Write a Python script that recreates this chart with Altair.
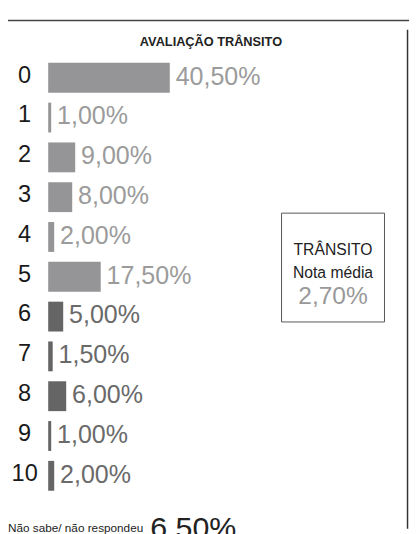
import altair as alt
import pandas as pd

# ---- data ----
notas = [str(i) for i in range(11)]
percentuais = [40.5, 1.0, 9.0, 8.0, 2.0, 17.5, 5.0, 1.5, 6.0, 1.0, 2.0]
titulo = "AVALIAÇÃO TRÂNSITO"
nao_sabe_rotulo = "Não sabe/ não respondeu"
nao_sabe_valor = 6.5
media_linhas = ["TRÂNSITO", "Nota média"]
media_valor = 2.7


def fmt(v):
    return f"{v:.2f}".replace(".", ",") + "%"


df = pd.DataFrame({
    "nota": notas,
    "num": list(range(len(notas))),
    "pct": percentuais,
    "rotulo": [fmt(v) for v in percentuais],
})

FONT = "Liberation Sans"
W, H = 409, 526
LIGHT = "#959598"
DARK = "#656565"
LIGHT_T = "#9b9b9b"
DARK_T = "#6a6a6a"

ysc = alt.Scale(range=[45.6, 492.2], paddingInner=0.25, paddingOuter=0.125)
y = alt.Y("nota:N", sort=notas, axis=None, scale=ysc)
x = alt.X("pct:Q", axis=None, scale=alt.Scale(domain=[0, 40.5], range=[41, 165]))
cond = "datum.num >= 6"

base = alt.Chart(df)

bars = base.mark_bar().encode(
    x=x, y=y,
    color=alt.condition(cond, alt.value(DARK), alt.value(LIGHT)),
)

pct_labels = base.mark_text(
    align="left", baseline="middle", dx=6, dy=-1, fontSize=25.5, font=FONT
).encode(
    x=x, y=y, text="rotulo:N",
    color=alt.condition(cond, alt.value(DARK_T), alt.value(LIGHT_T)),
)

cat_labels = base.mark_text(
    align="center", baseline="middle", dy=-2, fontSize=24, font=FONT, color="#1a1a1a"
).encode(x=alt.value(17), y=y, text="nota:N")

title_df = pd.DataFrame({"t": [titulo]})
title = alt.Chart(title_df).mark_text(
    align="center", baseline="alphabetic", fontSize=13, fontWeight="bold",
    font=FONT, color="#222222"
).encode(x=alt.value(207), y=alt.value(34), text="t:N")

top_line = alt.Chart(title_df).mark_rule(color="#444444", strokeWidth=1.5).encode(
    x=alt.value(0), x2=alt.value(W), y=alt.value(7.5)
)
right_line = alt.Chart(title_df).mark_rule(color="#333333", strokeWidth=1.5).encode(
    x=alt.value(407.5), y=alt.value(17), y2=alt.value(H)
)

box = alt.Chart(title_df).mark_rect(fill="white", stroke="#555555", strokeWidth=1).encode(
    x=alt.value(279), x2=alt.value(384), y=alt.value(204), y2=alt.value(315)
)

box_df1 = pd.DataFrame({"t": [media_linhas[0]]})
box_df2 = pd.DataFrame({"t": [media_linhas[1]]})
box_df3 = pd.DataFrame({"t": [fmt(media_valor)]})
box_t1 = alt.Chart(box_df1).mark_text(
    align="center", fontSize=16, font=FONT, color="#222222"
).encode(x=alt.value(331.5), y=alt.value(242), text="t:N")
box_t2 = alt.Chart(box_df2).mark_text(
    align="center", fontSize=16, font=FONT, color="#222222"
).encode(x=alt.value(331.5), y=alt.value(265), text="t:N")
box_t3 = alt.Chart(box_df3).mark_text(
    align="center", fontSize=25, font=FONT, color="#999999"
).encode(x=alt.value(331.5), y=alt.value(289), text="t:N")

ns_df1 = pd.DataFrame({"t": [nao_sabe_rotulo]})
ns_df2 = pd.DataFrame({"t": [fmt(nao_sabe_valor)]})
ns_t1 = alt.Chart(ns_df1).mark_text(
    align="left", fontSize=12, font=FONT, color="#222222"
).encode(x=alt.value(0), y=alt.value(525), text="t:N")
ns_t2 = alt.Chart(ns_df2).mark_text(
    align="left", fontSize=31, font=FONT, color="#222222"
).encode(x=alt.value(145), y=alt.value(526), text="t:N")

chart = alt.layer(
    top_line, right_line, title, box, box_t1, box_t2, box_t3,
    bars, pct_labels, cat_labels, ns_t1, ns_t2,
).properties(
    width=W, height=H,
    autosize=alt.AutoSizeParams(type="none"),
    padding=0,
).configure_view(stroke=None)

chart.save("out.html", embed_options={"renderer": "svg", "actions": False})
